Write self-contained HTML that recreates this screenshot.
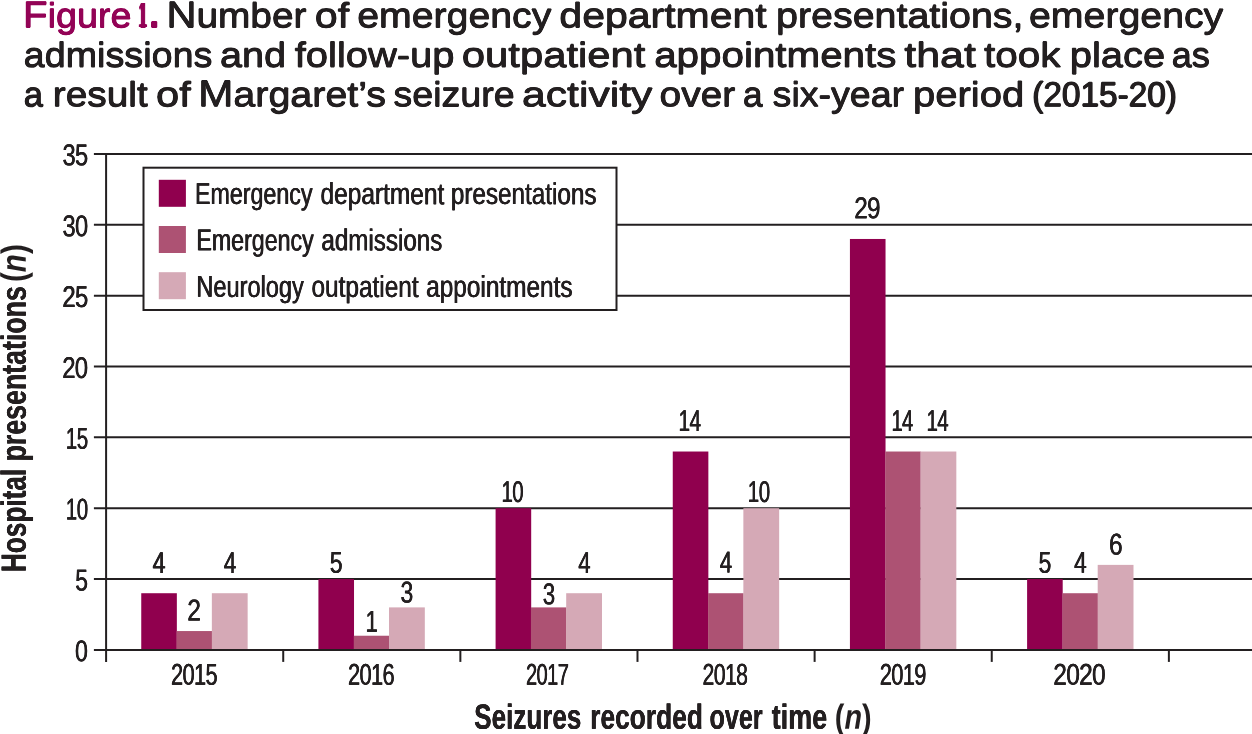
<!DOCTYPE html>
<html lang="en"><head><meta charset="utf-8"><title>Figure 1</title>
<style>
html,body{margin:0;padding:0;background:#fff;}
body{position:relative;width:1252px;height:734px;overflow:hidden;font-family:"Liberation Sans",Arial,Helvetica,sans-serif;color:#231f20;}
svg{position:absolute;left:0;top:0;display:block;}
#fig{position:absolute;left:0;top:0;width:1252px;height:734px;overflow:hidden;}
#fig h1,#fig div,#fig p{margin:0;padding:0;font:inherit;}
.w{position:absolute;left:0;top:0;display:block;white-space:pre;line-height:1;transform-origin:0 0;margin:0;padding:0;font-kerning:normal;text-rendering:geometricPrecision;}
.t{font-size:34.8px;font-weight:400;color:#231f20;text-shadow:0.425px 0 0 currentColor,-0.425px 0 0 currentColor,0 0.6px 0 currentColor,0 -0.6px 0 currentColor;}
.f{font-size:34.8px;font-weight:400;color:#930356;text-shadow:0.425px 0 0 currentColor,-0.425px 0 0 currentColor,0 0.6px 0 currentColor,0 -0.6px 0 currentColor;}
.f1{font-size:34.8px;font-weight:400;color:#930356;text-shadow:1.75px 0 0 currentColor,-1.75px 0 0 currentColor,3.5px 0 0 currentColor,-3.5px 0 0 currentColor,5.25px 0 0 currentColor,-5.25px 0 0 currentColor,0 0.6px 0 currentColor,0 -0.6px 0 currentColor;}
.fd{font-size:52px;font-weight:400;color:#930356;text-shadow:0.7px 0 0 currentColor,-0.7px 0 0 currentColor,0 0.7px 0 currentColor,0 -0.7px 0 currentColor;}
.t2{font-size:34.8px;font-weight:400;color:#231f20;text-shadow:0.7px 0 0 currentColor,-0.7px 0 0 currentColor,0 0.6px 0 currentColor,0 -0.6px 0 currentColor;}
.l{font-size:30.3px;font-weight:400;color:#231f20;text-shadow:0.4px 0 0 currentColor,-0.4px 0 0 currentColor;}
.n{font-size:30px;font-weight:400;color:#231f20;letter-spacing:-0.9px;text-shadow:0.35px 0 0 currentColor,-0.35px 0 0 currentColor;}
.b{font-size:35px;font-weight:700;color:#231f20;text-shadow:0.15px 0 0 currentColor,-0.15px 0 0 currentColor;}
.b2{font-size:35px;font-weight:700;color:#231f20;}
i{font-style:italic;}
.c{font-size:107%;line-height:0;}
</style></head><body>
<svg width="1252" height="734" viewBox="0 0 1252 734">
<rect width="1252" height="734" fill="#fff"/>
<g stroke="#231f20" stroke-width="2.00" fill="none">
<line x1="93.9" y1="579.05" x2="1252" y2="579.05"/>
<line x1="93.9" y1="508.20" x2="1252" y2="508.20"/>
<line x1="93.9" y1="437.35" x2="1252" y2="437.35"/>
<line x1="93.9" y1="366.50" x2="1252" y2="366.50"/>
<line x1="93.9" y1="295.65" x2="1252" y2="295.65"/>
<line x1="93.9" y1="224.80" x2="1252" y2="224.80"/>
<line x1="93.9" y1="153.95" x2="1252" y2="153.95"/>
</g>
<rect x="141.25" y="593.22" width="35.60" height="56.68" fill="#90004e"/>
<rect x="176.60" y="631.05" width="35.50" height="18.85" fill="#ad5273"/>
<rect x="211.85" y="593.22" width="35.80" height="56.68" fill="#d5a9b6"/>
<rect x="318.42" y="579.05" width="35.60" height="70.85" fill="#90004e"/>
<rect x="353.77" y="635.73" width="35.50" height="14.17" fill="#ad5273"/>
<rect x="389.02" y="607.39" width="35.80" height="42.51" fill="#d5a9b6"/>
<rect x="495.59" y="508.20" width="35.60" height="141.70" fill="#90004e"/>
<rect x="530.94" y="607.39" width="35.50" height="42.51" fill="#ad5273"/>
<rect x="566.19" y="593.22" width="35.80" height="56.68" fill="#d5a9b6"/>
<rect x="672.76" y="451.52" width="35.60" height="198.38" fill="#90004e"/>
<rect x="708.11" y="593.22" width="35.50" height="56.68" fill="#ad5273"/>
<rect x="743.36" y="508.20" width="35.80" height="141.70" fill="#d5a9b6"/>
<rect x="849.93" y="238.97" width="35.60" height="410.93" fill="#90004e"/>
<rect x="885.28" y="451.52" width="35.50" height="198.38" fill="#ad5273"/>
<rect x="920.53" y="451.52" width="35.80" height="198.38" fill="#d5a9b6"/>
<rect x="1027.10" y="579.05" width="35.60" height="70.85" fill="#90004e"/>
<rect x="1062.45" y="593.22" width="35.50" height="56.68" fill="#ad5273"/>
<rect x="1097.70" y="564.88" width="35.80" height="85.02" fill="#d5a9b6"/>
<g stroke="#231f20" stroke-width="2.00" fill="none">
<line x1="93.9" y1="649.90" x2="1252" y2="649.90"/>
<line x1="106.10" y1="153.10" x2="106.10" y2="661.9"/>
<line x1="283.23" y1="649.90" x2="283.23" y2="661.9"/>
<line x1="460.36" y1="649.90" x2="460.36" y2="661.9"/>
<line x1="637.49" y1="649.90" x2="637.49" y2="661.9"/>
<line x1="814.62" y1="649.90" x2="814.62" y2="661.9"/>
<line x1="991.75" y1="649.90" x2="991.75" y2="661.9"/>
<line x1="1168.88" y1="649.90" x2="1168.88" y2="661.9"/>
</g>
<rect x="143.5" y="167.7" width="473" height="142.3" fill="#fff" stroke="#231f20" stroke-width="2"/>
<rect x="158.8" y="179.8" width="27.1" height="27" fill="#90004e"/>
<rect x="158.8" y="226.0" width="27.1" height="27" fill="#ad5273"/>
<rect x="158.8" y="272.2" width="27.1" height="27" fill="#d5a9b6"/>
</svg>
<div id="fig">
<h1 class="title">
<span class="w f" style="transform:translate(23.07px,-0.65px) rotate(0.05deg) scaleX(1.0820)"><span class="c">F</span>igure</span>
<span class="w f1" style="transform:translate(139.66px,-0.60px) rotate(0.05deg) scaleX(0.3293)">1</span><span class="w fd" style="transform:translate(146.92px,-15.70px) rotate(0.05deg) scaleX(1.0068)">.</span>
<span class="w t" style="transform:translate(166.49px,-0.66px) rotate(0.05deg) scaleX(1.1152)"><span class="c">N</span>umber</span>
<span class="w t" style="transform:translate(314.77px,-0.61px) rotate(0.05deg) scaleX(1.1837)">of</span>
<span class="w t" style="transform:translate(357.31px,-0.68px) rotate(0.05deg) scaleX(1.1269)">emergency</span>
<span class="w t" style="transform:translate(559.38px,-0.69px) rotate(0.05deg) scaleX(1.1783)">department</span>
<span class="w t" style="transform:translate(776.14px,-0.71px) rotate(0.05deg) scaleX(1.1314)">presentations,</span>
<span class="w t" style="transform:translate(1029.01px,-0.68px) rotate(0.05deg) scaleX(1.1286)">emergency</span>
<span class="w t" style="transform:translate(23.66px,38.82px) rotate(0.05deg) scaleX(1.0849)">admissions</span>
<span class="w t" style="transform:translate(220.10px,38.87px) rotate(0.05deg) scaleX(1.1379)">and</span>
<span class="w t" style="transform:translate(294.72px,38.83px) rotate(0.05deg) scaleX(1.1479)">follow-up</span>
<span class="w t" style="transform:translate(461.85px,38.82px) rotate(0.05deg) scaleX(1.2014)">outpatient</span>
<span class="w t" style="transform:translate(654.18px,38.80px) rotate(0.05deg) scaleX(1.1597)">appointments</span>
<span class="w t" style="transform:translate(904.27px,38.87px) rotate(0.05deg) scaleX(1.2338)">that</span>
<span class="w t" style="transform:translate(983.98px,38.87px) rotate(0.05deg) scaleX(1.1654)">took</span>
<span class="w t" style="transform:translate(1069.81px,38.86px) rotate(0.05deg) scaleX(1.1477)">place</span>
<span class="w t" style="transform:translate(1171.70px,38.88px) rotate(0.05deg) scaleX(1.0407)">as</span>
<span class="w t" style="transform:translate(23.75px,78.29px) rotate(0.05deg) scaleX(0.9930)">a</span>
<span class="w t" style="transform:translate(52.80px,78.26px) rotate(0.05deg) scaleX(1.1154)">result</span>
<span class="w t" style="transform:translate(156.06px,78.29px) rotate(0.05deg) scaleX(1.1942)">of</span>
<span class="w t" style="transform:translate(198.25px,78.22px) rotate(0.05deg) scaleX(1.1328)"><span class="c">M</span>argaret’s</span>
<span class="w t" style="transform:translate(393.41px,78.25px) rotate(0.05deg) scaleX(1.0821)">seizure</span>
<span class="w t" style="transform:translate(522.11px,78.24px) rotate(0.05deg) scaleX(1.2246)">activity</span>
<span class="w t" style="transform:translate(659.54px,78.27px) rotate(0.05deg) scaleX(1.1186)">over</span>
<span class="w t" style="transform:translate(742.93px,78.29px) rotate(0.05deg) scaleX(1.0197)">a</span>
<span class="w t" style="transform:translate(772.61px,78.24px) rotate(0.05deg) scaleX(1.0800)">six-year</span>
<span class="w t" style="transform:translate(912.91px,78.25px) rotate(0.05deg) scaleX(1.1515)">period</span>
<span class="w t2" style="transform:translate(1032.30px,78.24px) rotate(0.05deg) scaleX(0.9583)">(2015-20)</span>
</h1>
<div class="legend">
<span class="w l" style="transform:translate(195.00px,180.05px) rotate(0.05deg) scaleX(0.7670)">Emergency</span>
<span class="w l" style="transform:translate(320.50px,180.05px) rotate(0.05deg) scaleX(0.8081)">department</span>
<span class="w l" style="transform:translate(450.86px,180.04px) rotate(0.05deg) scaleX(0.8010)">presentations</span>
<span class="w l" style="transform:translate(196.40px,226.35px) rotate(0.05deg) scaleX(0.7657)">Emergency</span>
<span class="w l" style="transform:translate(321.39px,226.35px) rotate(0.05deg) scaleX(0.7982)">admissions</span>
<span class="w l" style="transform:translate(196.38px,272.85px) rotate(0.05deg) scaleX(0.7781)">Neurology</span>
<span class="w l" style="transform:translate(311.50px,272.85px) rotate(0.05deg) scaleX(0.8051)">outpatient</span>
<span class="w l" style="transform:translate(426.19px,272.84px) rotate(0.05deg) scaleX(0.8047)">appointments</span>
</div>
<div class="axis-y">
<span class="w n" style="transform:translate(74.97px,637.29px) rotate(0.05deg) scaleX(0.7711)">0</span>
<span class="w n" style="transform:translate(75.35px,566.45px) rotate(0.05deg) scaleX(0.7637)">5</span>
<span class="w n" style="transform:translate(65.88px,495.59px) rotate(0.05deg) scaleX(0.6831)">10</span>
<span class="w n" style="transform:translate(65.87px,424.74px) rotate(0.05deg) scaleX(0.6851)">15</span>
<span class="w n" style="transform:translate(62.28px,353.89px) rotate(0.05deg) scaleX(0.7969)">20</span>
<span class="w n" style="transform:translate(62.38px,283.04px) rotate(0.05deg) scaleX(0.7959)">25</span>
<span class="w n" style="transform:translate(62.58px,212.19px) rotate(0.05deg) scaleX(0.7874)">30</span>
<span class="w n" style="transform:translate(62.47px,141.34px) rotate(0.05deg) scaleX(0.7897)">35</span>
</div>
<div class="axis-x">
<span class="w n" style="transform:translate(171.06px,660.68px) rotate(0.05deg) scaleX(0.7276)">2015</span>
<span class="w n" style="transform:translate(348.06px,660.68px) rotate(0.05deg) scaleX(0.7283)">2016</span>
<span class="w n" style="transform:translate(526.02px,660.68px) rotate(0.05deg) scaleX(0.6690)">2017</span>
<span class="w n" style="transform:translate(702.58px,660.68px) rotate(0.05deg) scaleX(0.7088)">2018</span>
<span class="w n" style="transform:translate(879.75px,660.68px) rotate(0.05deg) scaleX(0.7295)">2019</span>
<span class="w n" style="transform:translate(1053.35px,660.68px) rotate(0.05deg) scaleX(0.8168)">2020</span>
</div>
<div class="values">
<span class="w n" style="transform:translate(152.64px,548.99px) rotate(0.05deg) scaleX(0.7712)">4</span>
<span class="w n" style="transform:translate(187.35px,596.49px) rotate(0.05deg) scaleX(0.8212)">2</span>
<span class="w n" style="transform:translate(223.85px,548.99px) rotate(0.05deg) scaleX(0.7522)">4</span>
<span class="w n" style="transform:translate(329.74px,548.79px) rotate(0.05deg) scaleX(0.7704)">5</span>
<span class="w n" style="transform:translate(365.62px,607.80px) rotate(0.05deg) scaleX(0.7400)">1</span>
<span class="w n" style="transform:translate(400.59px,578.50px) rotate(0.05deg) scaleX(0.7637)">3</span>
<span class="w n" style="transform:translate(501.48px,477.99px) rotate(0.05deg) scaleX(0.6797)">10</span>
<span class="w n" style="transform:translate(542.81px,580.30px) rotate(0.05deg) scaleX(0.7436)">3</span>
<span class="w n" style="transform:translate(578.35px,548.99px) rotate(0.05deg) scaleX(0.7396)">4</span>
<span class="w n" style="transform:translate(678.56px,406.89px) rotate(0.05deg) scaleX(0.6931)">14</span>
<span class="w n" style="transform:translate(719.85px,548.59px) rotate(0.05deg) scaleX(0.7459)">4</span>
<span class="w n" style="transform:translate(747.88px,477.99px) rotate(0.05deg) scaleX(0.6831)">10</span>
<span class="w n" style="transform:translate(854.26px,194.29px) rotate(0.05deg) scaleX(0.8100)">29</span>
<span class="w n" style="transform:translate(891.50px,406.89px) rotate(0.05deg) scaleX(0.6698)">14</span>
<span class="w n" style="transform:translate(926.58px,406.89px) rotate(0.05deg) scaleX(0.6831)">14</span>
<span class="w n" style="transform:translate(1038.54px,548.69px) rotate(0.05deg) scaleX(0.7704)">5</span>
<span class="w n" style="transform:translate(1074.15px,548.79px) rotate(0.05deg) scaleX(0.7459)">4</span>
<span class="w n" style="transform:translate(1108.94px,530.59px) rotate(0.05deg) scaleX(0.8181)">6</span>
</div>
<p class="axis-x-title">
<span class="w b" style="transform:translate(474.26px,699.75px) rotate(0.05deg) scaleX(0.7439)">Seizures</span>
<span class="w b" style="transform:translate(590.18px,699.75px) rotate(0.05deg) scaleX(0.7527)">recorded</span>
<span class="w b" style="transform:translate(709.53px,699.78px) rotate(0.05deg) scaleX(0.7174)">over</span>
<span class="w b" style="transform:translate(771.69px,699.78px) rotate(0.05deg) scaleX(0.7715)">time</span>
<span class="w b2" style="transform:translate(834.87px,699.79px) rotate(0.05deg) scaleX(0.8225)">(<i>n</i>)</span>
</p>
<p class="axis-y-title">
<span class="w b" style="transform:translate(-3.36px,572.14px) rotate(-89.95deg) scaleX(0.7487)">Hospital</span>
<span class="w b" style="transform:translate(-3.32px,461.45px) rotate(-89.95deg) scaleX(0.7640)">presentations</span>
<span class="w b2" style="transform:translate(-3.38px,281.97px) rotate(-89.95deg) scaleX(0.8443)">(<i>n</i>)</span>
</p>
</div>
</body></html>
